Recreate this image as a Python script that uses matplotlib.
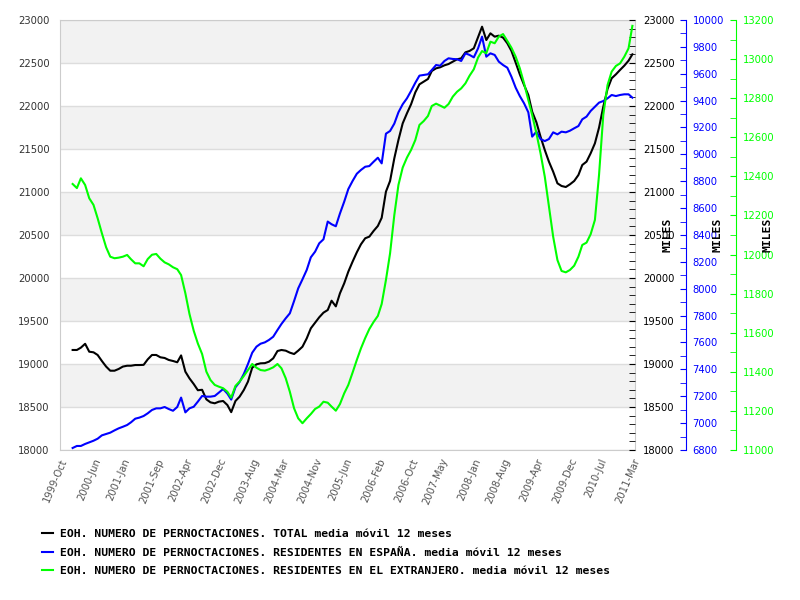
import matplotlib
matplotlib.use('Agg')
import matplotlib.pyplot as plt
from matplotlib.ticker import MultipleLocator
import pandas as pd

# monthly data, Jan 2000 .. Mar 2011 (12-month moving average)
months = pd.date_range('2000-01-01', periods=135, freq='MS')

xtick_labels = ['1999-Oct', '2000-Jun', '2001-Jan', '2001-Sep', '2002-Apr', '2002-Dec',
                '2003-Aug', '2004-Mar', '2004-Nov', '2005-Jun', '2006-Feb', '2006-Oct',
                '2007-May', '2008-Jan', '2008-Aug', '2009-Apr', '2009-Dec', '2010-Jul',
                '2011-Mar']

total = [19163, 19163, 19190, 19235, 19143, 19136, 19105, 19035, 18970, 18922,
         18922, 18942, 18970, 18980, 18980, 18988, 18988, 18990, 19054, 19105,
         19105, 19078, 19070, 19047, 19035, 19020, 19100, 18911, 18833, 18767,
         18695, 18700, 18589, 18554, 18543, 18562, 18570, 18523, 18440, 18570,
         18620, 18698, 18795, 18957, 18996, 19008, 19010, 19027, 19066, 19151,
         19163, 19155, 19132, 19116, 19155, 19201, 19298, 19415, 19481, 19543,
         19597, 19628, 19736, 19670, 19822, 19938, 20074, 20190, 20299, 20392,
         20462, 20481, 20547, 20605, 20700, 21004, 21128, 21392, 21605, 21798,
         21915, 22020, 22159, 22252, 22283, 22314, 22407, 22438, 22450, 22473,
         22488, 22515, 22543, 22554, 22624, 22640, 22671, 22800, 22922, 22767,
         22845, 22806, 22818, 22795, 22729, 22640, 22504, 22368, 22244, 22128,
         21934, 21810, 21643, 21488, 21353, 21236, 21101, 21070, 21058, 21089,
         21128, 21198, 21314, 21353, 21450, 21566, 21748, 21992, 22198, 22322,
         22368, 22419, 22469, 22527, 22601]

espana = [6815, 6830, 6830, 6845, 6857, 6869, 6884, 6909, 6919, 6929,
          6946, 6961, 6973, 6986, 7006, 7033, 7041, 7053, 7073, 7098,
          7110, 7110, 7120, 7105, 7092, 7120, 7190, 7080, 7110, 7122,
          7160, 7202, 7197, 7197, 7202, 7227, 7254, 7220, 7175, 7267,
          7306, 7366, 7440, 7524, 7569, 7591, 7601, 7619, 7643, 7693,
          7738, 7780, 7817, 7909, 8003, 8070, 8140, 8234, 8276, 8338,
          8368, 8500, 8480, 8465, 8560, 8648, 8742, 8802, 8856, 8884,
          8908, 8913, 8945, 8975, 8933, 9154, 9174, 9229, 9313, 9373,
          9417, 9472, 9533, 9586, 9591, 9596, 9628, 9665, 9660, 9695,
          9715, 9710, 9708, 9695, 9752, 9740, 9722, 9789, 9876, 9727,
          9752, 9740, 9690, 9665, 9645, 9578, 9496, 9434, 9380, 9313,
          9132, 9169, 9114, 9099, 9114, 9164, 9149, 9169, 9164, 9176,
          9194, 9211, 9261, 9281, 9323, 9355, 9385, 9397, 9417, 9442,
          9434, 9442, 9447, 9447, 9422]

extranjero = [12361, 12340, 12390, 12356, 12288, 12254, 12186, 12109, 12037, 11989,
              11981, 11984, 11989, 11998, 11976, 11955, 11955, 11940, 11977, 11999,
              12003, 11979, 11960, 11950, 11935, 11925, 11895, 11802, 11696, 11610,
              11545, 11491, 11401, 11358, 11333, 11324, 11316, 11298, 11268, 11328,
              11350, 11379, 11409, 11440, 11421, 11409, 11406, 11413, 11423, 11440,
              11418, 11367, 11298, 11213, 11162, 11137, 11162, 11184, 11210, 11222,
              11247, 11242, 11222, 11201, 11235, 11290, 11333, 11396, 11461, 11520,
              11573, 11619, 11655, 11686, 11747, 11870, 12006, 12202, 12356, 12445,
              12496, 12535, 12586, 12663, 12683, 12709, 12760, 12772, 12762, 12751,
              12770, 12808, 12833, 12850, 12876, 12915, 12948, 13008, 13041, 13030,
              13089, 13081, 13115, 13128, 13093, 13058, 13012, 12953, 12876, 12791,
              12714, 12620, 12518, 12398, 12245, 12091, 11972, 11916, 11909, 11921,
              11943, 11989, 12049, 12061, 12104, 12177, 12407, 12714, 12867, 12936,
              12965, 12978, 13012, 13055, 13170]

legend_labels = ['EOH. NUMERO DE PERNOCTACIONES. TOTAL media móvil 12 meses',
                 'EOH. NUMERO DE PERNOCTACIONES. RESIDENTES EN ESPAÑA. media móvil 12 meses',
                 'EOH. NUMERO DE PERNOCTACIONES. RESIDENTES EN EL EXTRANJERO. media móvil 12 meses']

mono = {'family': 'DejaVu Sans Mono', 'weight': 'bold', 'size': 8.2}

fig = plt.figure(figsize=(8, 6), dpi=100)
ax = fig.add_axes([0.075, 0.25, 0.71875, 0.71667])

# background bands + grid
for lo in range(18500, 23000, 1000):
    ax.axhspan(lo, lo + 500, color='#f2f2f2', zorder=0, lw=0)
ax.set_ylim(18000, 23000)
ax.set_yticks(range(18000, 23001, 500))
ax.yaxis.grid(True, color='#dddddd', lw=1)
ax.set_axisbelow(True)
for s in ax.spines.values():
    s.set_color('#cccccc')
ax.tick_params(axis='y', length=0, labelsize=7.2, labelcolor='#333333', pad=7.5)

ax.set_xlim(pd.Timestamp('1999-10-01'), pd.Timestamp('2011-03-20'))
ax.set_xticks(pd.to_datetime(xtick_labels, format='%Y-%b'))
ax.set_xticklabels(xtick_labels, rotation=67, ha='right', va='top',
                   rotation_mode='anchor', color='#555555', fontsize=7.2)
ax.tick_params(axis='x', length=0, pad=5)

l1, = ax.plot(months, total, color='black', lw=1.5)

# right copy of the left axis
ax_r = ax.twinx()
ax_r.set_ylim(18000, 23000)
ax_r.yaxis.set_major_locator(MultipleLocator(500))
ax_r.yaxis.set_minor_locator(MultipleLocator(100))
ax_r.tick_params(axis='y', which='both', direction='in', color='black', length=4,
                 labelsize=7.2, labelcolor='black', pad=6)
for s in ax_r.spines.values():
    s.set_visible(False)
ax_r.set_ylabel('MILES', fontdict=mono)
ax_r.yaxis.set_label_coords(1.057, 0.5)

# Espana axis
ax_b = ax.twinx()
ax_b.spines['right'].set_position(('axes', 1.088))
l2, = ax_b.plot(months, espana, color='#0000ff', lw=1.5)
ax_b.set_ylim(6800, 10000)
ax_b.yaxis.set_major_locator(MultipleLocator(200))
ax_b.yaxis.set_minor_locator(MultipleLocator(100))
ax_b.tick_params(axis='y', which='both', direction='in', color='#0000ff', length=4,
                 labelsize=7.2, labelcolor='#0000ff', pad=5)
for k, s in ax_b.spines.items():
    s.set_visible(k == 'right')
ax_b.spines['right'].set_color('#0000ff')
ax_b.set_ylabel('MILES', fontdict=mono)
ax_b.yaxis.set_label_coords(1.144, 0.5)

# Extranjero axis
ax_g = ax.twinx()
ax_g.spines['right'].set_position(('axes', 1.175))
l3, = ax_g.plot(months, extranjero, color='#00ff00', lw=1.5)
ax_g.set_ylim(11000, 13200)
ax_g.yaxis.set_major_locator(MultipleLocator(200))
ax_g.yaxis.set_minor_locator(MultipleLocator(100))
ax_g.tick_params(axis='y', which='both', direction='in', color='#00ff00', length=4,
                 labelsize=7.2, labelcolor='#00ff00', pad=5)
for k, s in ax_g.spines.items():
    s.set_visible(k == 'right')
ax_g.spines['right'].set_color('#00ff00')
ax_g.set_ylabel('MILES', fontdict=mono)
ax_g.yaxis.set_label_coords(1.231, 0.5)

for a in (ax_r, ax_b, ax_g):
    a.yaxis.label.set_verticalalignment('center')
    a.yaxis.label.set_horizontalalignment('center')

fig.legend([l1, l2, l3], legend_labels, loc='upper left', bbox_to_anchor=(0.04, 0.135),
           frameon=False, prop=mono, handlelength=0.9, handletextpad=0.7,
           labelspacing=0.75)

fig.savefig('out.png', dpi=100)
